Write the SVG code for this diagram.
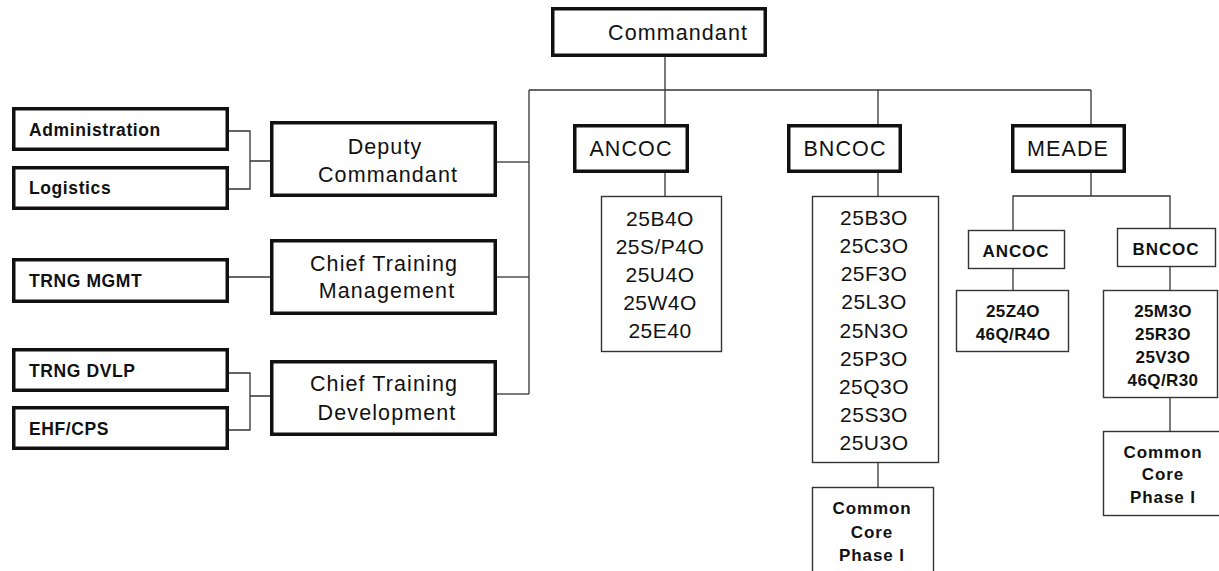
<svg xmlns="http://www.w3.org/2000/svg" width="1219" height="571" viewBox="0 0 1219 571">
  <style>
    .thick { fill: #fff; stroke: #111; stroke-width: 3.5; }
    .thin { fill: #fff; stroke: #333; stroke-width: 1.4; }
    .wire { fill: none; stroke: #333; stroke-width: 1.3; }
    .bus { fill: none; stroke: #666; stroke-width: 1.8; }
    .head { font-family: "Liberation Sans", Arial, sans-serif; font-size: 21.5px; letter-spacing: 1.1px; fill: #111; }
    .side { font-family: "Liberation Sans", Arial, sans-serif; font-size: 17.5px; font-weight: bold; letter-spacing: 0.6px; fill: #111; }
    .code { font-family: "Liberation Sans", Arial, sans-serif; font-size: 21px; letter-spacing: 0.5px; fill: #111; text-anchor: middle; }
    .sub { font-family: "Liberation Sans", Arial, sans-serif; font-size: 17px; font-weight: bold; letter-spacing: 0.9px; fill: #111; text-anchor: middle; }
    .mid { text-anchor: middle; }
  </style>

  <!-- connectors -->
  <g id="connectors">
    <path class="bus" d="M529 90 H1091"/>
    <path class="wire" d="M665 57 V124"/>
    <path class="wire" d="M878 90 V124"/>
    <path class="wire" d="M1091 90 V124"/>
    <path class="wire" d="M529 90 V394"/>
    <path class="wire" d="M497 162 H529"/>
    <path class="wire" d="M497 277 H529"/>
    <path class="wire" d="M497 394 H529"/>
    <path class="wire" d="M229 131 H250 V189 H229 M250 161 H270"/>
    <path class="wire" d="M229 277 H270"/>
    <path class="wire" d="M229 373 H250 V430 H229 M250 396 H270"/>
    <path class="wire" d="M665 173 V196"/>
    <path class="wire" d="M878 173 V196"/>
    <path class="wire" d="M878 463 V487"/>
    <path class="wire" d="M1091 173 V196 M1013 230 V196 H1170 V228"/>
    <path class="wire" d="M1013 269 V290"/>
    <path class="wire" d="M1170 267 V290"/>
    <path class="wire" d="M1170 398 V431"/>
  </g>

  <g id="commandant">
    <rect class="thick" x="552.75" y="8.75" width="212.5" height="46.5"/>
    <text class="head" x="608" y="39.5">Commandant</text>
  </g>

  <g id="administration">
    <rect class="thick" x="13.75" y="108.75" width="213.5" height="40.5"/>
    <text class="side" x="29" y="136">Administration</text>
  </g>
  <g id="logistics">
    <rect class="thick" x="13.75" y="167.75" width="213.5" height="40.5"/>
    <text class="side" x="29" y="194">Logistics</text>
  </g>
  <g id="trng-mgmt">
    <rect class="thick" x="13.75" y="259.75" width="213.5" height="41.5"/>
    <text class="side" x="29" y="287">TRNG MGMT</text>
  </g>
  <g id="trng-dvlp">
    <rect class="thick" x="13.75" y="349.75" width="213.5" height="40.5"/>
    <text class="side" x="29" y="377">TRNG DVLP</text>
  </g>
  <g id="ehf-cps">
    <rect class="thick" x="13.75" y="407.75" width="213.5" height="40.5"/>
    <text class="side" x="29" y="435">EHF/CPS</text>
  </g>

  <g id="deputy-commandant">
    <rect class="thick" x="271.75" y="122.75" width="223.5" height="72.5"/>
    <text class="head mid" x="385" y="154">Deputy</text>
    <text class="head mid" x="388" y="182">Commandant</text>
  </g>
  <g id="chief-training-management">
    <rect class="thick" x="271.75" y="240.75" width="223.5" height="72.5"/>
    <text class="head mid" x="384" y="271">Chief Training</text>
    <text class="head mid" x="387" y="298">Management</text>
  </g>
  <g id="chief-training-development">
    <rect class="thick" x="271.75" y="361.75" width="223.5" height="72.5"/>
    <text class="head mid" x="384" y="391">Chief Training</text>
    <text class="head mid" x="387" y="420">Development</text>
  </g>

  <g id="ancoc">
    <rect class="thick" x="574.75" y="125.75" width="112.5" height="45.5"/>
    <text class="head mid" x="631" y="156">ANCOC</text>
  </g>
  <g id="bncoc">
    <rect class="thick" x="788.75" y="125.75" width="111.5" height="45.5"/>
    <text class="head mid" x="845" y="156">BNCOC</text>
  </g>
  <g id="meade">
    <rect class="thick" x="1012.75" y="125.75" width="111.5" height="45.5"/>
    <text class="head mid" x="1068" y="156">MEADE</text>
  </g>

  <g id="ancoc-courses">
    <rect class="thin" x="601.5" y="196.5" width="120" height="155"/>
    <text class="code" x="660" y="226">25B4O</text>
    <text class="code" x="660" y="254">25S/P4O</text>
    <text class="code" x="660" y="282">25U4O</text>
    <text class="code" x="660" y="310">25W4O</text>
    <text class="code" x="660" y="338">25E40</text>
  </g>

  <g id="bncoc-courses">
    <rect class="thin" x="812.5" y="196.5" width="126" height="266"/>
    <text class="code" x="874" y="224.5">25B3O</text>
    <text class="code" x="874" y="252.7">25C3O</text>
    <text class="code" x="874" y="280.9">25F3O</text>
    <text class="code" x="874" y="309.3">25L3O</text>
    <text class="code" x="874" y="337.5">25N3O</text>
    <text class="code" x="874" y="365.7">25P3O</text>
    <text class="code" x="874" y="393.9">25Q3O</text>
    <text class="code" x="874" y="422.1">25S3O</text>
    <text class="code" x="874" y="450.3">25U3O</text>
  </g>

  <g id="bncoc-common-core">
    <rect class="thin" x="812.5" y="487.5" width="121" height="100"/>
    <text class="sub" x="872" y="514">Common</text>
    <text class="sub" x="872" y="538">Core</text>
    <text class="sub" x="872" y="561">Phase I</text>
  </g>

  <g id="meade-ancoc">
    <rect class="thin" x="968.5" y="230.5" width="96" height="38"/>
    <text class="sub" x="1016" y="257">ANCOC</text>
  </g>
  <g id="meade-bncoc">
    <rect class="thin" x="1117.5" y="228.5" width="98" height="38"/>
    <text class="sub" x="1166" y="255">BNCOC</text>
  </g>

  <g id="meade-ancoc-courses">
    <rect class="thin" x="956.5" y="290.5" width="112" height="61"/>
    <text class="sub" x="1013" y="317" style="letter-spacing:0.4px">25Z4O</text>
    <text class="sub" x="1013" y="340" style="letter-spacing:0.4px">46Q/R4O</text>
  </g>
  <g id="meade-bncoc-courses">
    <rect class="thin" x="1103.5" y="290.5" width="114" height="107"/>
    <text class="sub" x="1163" y="317" style="letter-spacing:0.4px">25M3O</text>
    <text class="sub" x="1163" y="340" style="letter-spacing:0.4px">25R3O</text>
    <text class="sub" x="1163" y="363" style="letter-spacing:0.4px">25V3O</text>
    <text class="sub" x="1163" y="386" style="letter-spacing:0.4px">46Q/R30</text>
  </g>
  <g id="meade-common-core">
    <rect class="thin" x="1103.5" y="431.5" width="120" height="84"/>
    <text class="sub" x="1163" y="458">Common</text>
    <text class="sub" x="1163" y="480">Core</text>
    <text class="sub" x="1163" y="503">Phase I</text>
  </g>
</svg>
